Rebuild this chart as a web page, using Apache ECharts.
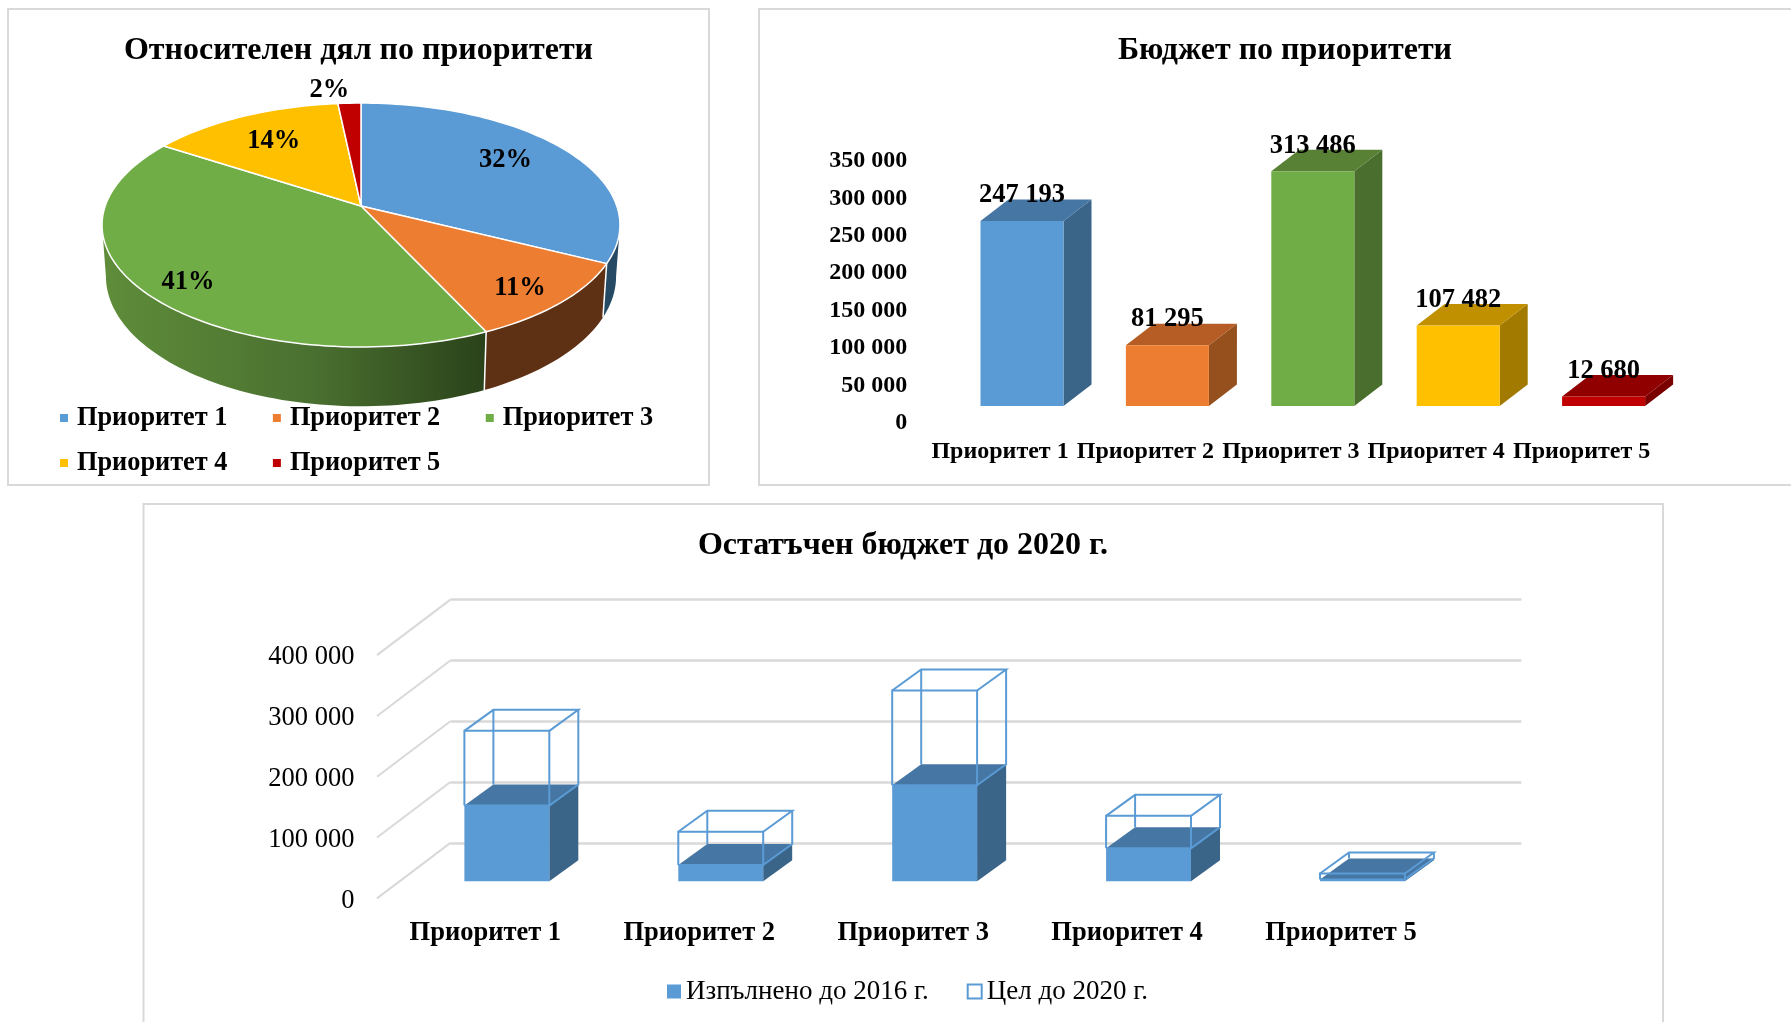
<!DOCTYPE html>
<html>
<head>
<meta charset="utf-8">
<script src="https://cdn.jsdelivr.net/npm/echarts@6/dist/echarts.min.js"></script>
<style>html,body{margin:0;padding:0;background:#fff;overflow:hidden}#c{width:1791px;height:1022px}</style>
</head>
<body>
<div id="c"></div>
<script>
// ---------- data ----------
const priorities = ['Приоритет 1', 'Приоритет 2', 'Приоритет 3', 'Приоритет 4', 'Приоритет 5'];
const budget = [247193, 81295, 313486, 107482, 12680];
const doneBy2016 = [124300, 26700, 157800, 54000, 3000];
const targetBy2020 = [247193, 81295, 313486, 107482, 12680];

// ---------- styles ----------
const FONT = '"Liberation Serif", "Times New Roman", serif';
const frontColors = ['#5b9bd5', '#ed7d31', '#70ad47', '#ffc000', '#c00000'];
const topColors = ['#4676a3', '#b55d24', '#588136', '#c09000', '#900000'];
const sideColors = ['#3a6488', '#96501e', '#4a6e2d', '#a27a00', '#7a0000'];
const wallFills = ['#264a63', '#5e3114', {
  type: 'linear', x: 0, y: 0, x2: 1, y2: 0,
  colorStops: [{offset: 0, color: '#5f8d3a'}, {offset: 0.55, color: '#4a7030'}, {offset: 1, color: '#2a421a'}]
}];
const labelRadius = [0.735, 0.833, 0.842, 0.717, 1.16];
const labelTurn = [-3.4, 1.6, -2.2, 0, -4.2];
const labelLift = [1.5, 1.5, 1.5, 2, 0.5];

// ---------- pie projection ----------
const PIE = {cx: 361, cy: 206, rx: 255.8, ry: 119, k: 0.156, depth: 50, shrink: 0.985};
const total = budget.reduce((a, b) => a + b, 0);
const cumulative = budget.map((_, i) => budget.slice(0, i).reduce((a, b) => a + b, 0));
const toDeg = v => v / total * 360;
function project(deg, r, lower) {
  const t = deg * Math.PI / 180, u = r * Math.sin(t), v = -r * Math.cos(t), w = 1 - PIE.k * v;
  let x = PIE.rx * u / w, y = PIE.ry * v / w;
  if (lower) { x *= PIE.shrink; y += PIE.depth / w; }
  return [PIE.cx + x, PIE.cy + y];
}
function arc(a, b, lower) {
  const pts = [], n = Math.max(2, Math.ceil(Math.abs(b - a) / 1.5));
  for (let j = 0; j <= n; j++) pts.push(project(a + (b - a) * j / n, 1, lower));
  return pts;
}
function sliceItem(i) {
  return function (params, api) {
    const start = toDeg(cumulative[i]), end = start + toDeg(api.value(0));
    const mid = (start + end) / 2 + labelTurn[i];
    const lp = project(mid, labelRadius[i], false);
    return {type: 'group', children: [
      {type: 'polygon', shape: {points: [[PIE.cx, PIE.cy]].concat(arc(start, end, false))},
       style: {fill: frontColors[i], stroke: '#fff', lineWidth: 1.5, lineJoin: 'round'}},
      {type: 'text', z2: 20, x: lp[0], y: lp[1] + labelLift[i],
       style: {text: Math.round(api.value(0) / total * 100) + '%', fill: '#000',
               font: 'bold 26.5px ' + FONT, align: 'center', verticalAlign: 'middle'}}
    ]};
  };
}
function wallItem(params, api) {
  const i = params.dataIndex;
  const start = toDeg(cumulative[i]), end = start + toDeg(api.value(0));
  const a = Math.max(start, 99), b = Math.min(end, 261);
  const top = arc(a, b, false), bottom = arc(a, b, true).reverse();
  const children = [{type: 'polygon', shape: {points: top.concat(bottom)}, style: {fill: wallFills[i]}}];
  if (i > 0) children.push({type: 'line',
    shape: {x1: top[0][0], y1: top[0][1], x2: bottom[bottom.length - 1][0], y2: bottom[bottom.length - 1][1]},
    style: {stroke: '#fff', lineWidth: 1.5}});
  return {type: 'group', children};
}

// ---------- 3D bars ----------
function box(api, params, value, widthShare, dx, dy) {
  const band = api.size([1, 0])[0];
  const c = api.coord([params.dataIndex, value]), base = api.coord([params.dataIndex, 0]);
  const w = band * widthShare, l = c[0] - w / 2, r = c[0] + w / 2;
  return {l, r, t: c[1], b: base[1], dx, dy};
}
function solid(b, front, top, side) {
  return [
    {type: 'polygon', shape: {points: [[b.r, b.t], [b.r + b.dx, b.t - b.dy], [b.r + b.dx, b.b - b.dy], [b.r, b.b]]}, style: {fill: side}},
    {type: 'polygon', shape: {points: [[b.l, b.t], [b.l + b.dx, b.t - b.dy], [b.r + b.dx, b.t - b.dy], [b.r, b.t]]}, style: {fill: top}},
    {type: 'rect', shape: {x: b.l, y: b.t, width: b.r - b.l, height: b.b - b.t}, style: {fill: front}}
  ];
}
function budgetItem(params, api) {
  const i = params.dataIndex, v = api.value(1);
  const b = box(api, params, v, 0.571, 28, 21.5);
  const kids = solid(b, frontColors[i], topColors[i], sideColors[i]);
  kids.push({type: 'text', z2: 20, x: (b.l + b.r) / 2, y: b.t - 25.5,
    style: {text: String(v).replace(/\B(?=(\d{3})+$)/g, ' '), fill: '#000',
            font: 'bold 26.5px ' + FONT, align: 'center', verticalAlign: 'middle'}});
  return {type: 'group', children: kids};
}
function doneItem(params, api) {
  const b = box(api, params, api.value(1), 0.397, 29, 21);
  return {type: 'group', children: solid(b, '#5b9bd5', '#4676a3', '#3a6488')};
}
function targetItem(params, api) {
  const b = box(api, params, api.value(1), 0.397, 29, 21);
  const d = box(api, params, doneBy2016[params.dataIndex], 0.397, 29, 21);
  const st = {stroke: '#5b9bd5', lineWidth: 2, fill: null};
  const x0 = b.l + b.dx, x1 = b.r + b.dx, ty = b.t - b.dy, dy = d.t - d.dy;
  const poly = pts => ({type: 'polyline', shape: {points: pts}, style: st});
  return {type: 'group', children: [
    poly([[b.l, d.t], [b.l, b.t], [b.r, b.t], [b.r, d.t], [b.l, d.t]]),
    poly([[b.l, b.t], [x0, ty], [x1, ty], [b.r, b.t]]),
    poly([[x0, ty], [x0, dy]]),
    poly([[x1, ty], [x1, dy], [b.r, d.t]])
  ]};
}
function depthLine(params, api) {
  const p = api.coord([0, api.value(0)]), x = params.coordSys.x;
  return {type: 'line', shape: {x1: x, y1: p[1], x2: x - 73.4, y2: p[1] + 55.5},
          style: {stroke: '#d9d9d9', lineWidth: 2}};
}

const spaced = v => String(v).replace(/\B(?=(\d{3})+$)/g, ' ');
const frame = (x, y, width, height) => ({type: 'rect', z: -1, shape: {x, y, width, height}, style: {fill: '#fff', stroke: '#d9d9d9', lineWidth: 2}});
const titleAt = (text, left, top) => ({text, left, top, textAlign: 'center', textVerticalAlign: 'middle',
  textStyle: {fontFamily: FONT, fontWeight: 'bold', fontSize: 32, color: '#000'}});
const pieLegend = (names, top) => ({data: names, left: 60, top, orient: 'horizontal', icon: 'rect', itemWidth: 8, itemHeight: 8, itemGap: 45.5,
  selectedMode: false, padding: 0, textStyle: {fontFamily: FONT, fontWeight: 'bold', fontSize: 26.3, color: '#000', padding: [0, 0, 0, 4]}});

const option = {
  animation: false,
  backgroundColor: '#fff',
  graphic: [frame(8, 9, 701, 476), frame(759, 9, 1040, 476), frame(143.5, 504, 1519.5, 530)],
  title: [
    titleAt('Относителен дял по приоритети', 353.5, 46),
    titleAt('Бюджет по приоритети', 1280, 46),
    titleAt('Остатъчен бюджет до 2020 г.', 898, 541)
  ],
  legend: [
    pieLegend(priorities.slice(0, 3), 405),
    pieLegend(priorities.slice(3), 450),
    {data: [{name: 'Изпълнено до 2016 г.', icon: 'rect'},
            {name: 'Цел до 2020 г.', icon: 'rect', itemStyle: {color: '#fff', borderColor: '#5b9bd5', borderWidth: 2}}],
     left: 667, top: 978, itemWidth: 14, itemHeight: 14, itemGap: 38, selectedMode: false, padding: 0,
     textStyle: {fontFamily: FONT, fontSize: 27, color: '#000'}}
  ],
  grid: [
    {left: 949.3, top: 144, width: 727, height: 262},
    {left: 450.4, top: 599.6, width: 1071, height: 243.3},
    {left: 399.9, top: 637.9, width: 1069.5, height: 243.3},
    {left: 450.4, top: 657.4, width: 1071, height: 243.3}
  ],
  xAxis: [
    {gridIndex: 0, type: 'category', data: priorities, axisLine: {show: false}, axisTick: {show: false},
     axisLabel: {interval: 0, margin: 34, padding: [0, 44, 0, 0], fontFamily: FONT, fontWeight: 'bold', fontSize: 24, color: '#000'}},
    {gridIndex: 1, type: 'category', data: priorities, show: false},
    {gridIndex: 2, type: 'category', data: priorities, axisLine: {show: false}, axisTick: {show: false},
     axisLabel: {interval: 0, margin: 38, padding: [0, 43, 0, 0], fontFamily: FONT, fontWeight: 'bold', fontSize: 26.5, color: '#000'}},
    {gridIndex: 3, type: 'category', data: priorities, show: false}
  ],
  yAxis: [
    {gridIndex: 0, type: 'value', min: 0, max: 350000, interval: 50000, axisLine: {show: false}, axisTick: {show: false}, splitLine: {show: false},
     axisLabel: {margin: 42, verticalAlign: 'top', lineHeight: 34, fontFamily: FONT, fontWeight: 'bold', fontSize: 24, color: '#000', formatter: spaced}},
    {gridIndex: 1, type: 'value', min: 0, max: 400000, interval: 100000, axisLine: {show: false}, axisTick: {show: false},
     splitLine: {show: true, lineStyle: {color: '#d9d9d9', width: 2.5}}, axisLabel: {show: false}},
    {gridIndex: 2, type: 'value', min: 0, max: 400000, interval: 100000, show: false},
    {gridIndex: 3, type: 'value', min: 0, max: 400000, interval: 100000, axisLine: {show: false}, axisTick: {show: false}, splitLine: {show: false},
     axisLabel: {margin: 96, fontFamily: FONT, fontSize: 26.5, color: '#000', formatter: spaced}}
  ],
  series: [
    {type: 'custom', name: 'walls', coordinateSystem: 'none', z: 1, silent: true, renderItem: wallItem,
     data: budget.map(v => [v])},
    ...priorities.map((name, i) => ({type: 'custom', name, coordinateSystem: 'none', z: 2, renderItem: sliceItem(i),
      itemStyle: {color: frontColors[i]}, data: [[budget[i]]]})),
    {type: 'custom', name: 'budget', xAxisIndex: 0, yAxisIndex: 0, z: 2, renderItem: budgetItem,
     encode: {x: 0, y: 1}, data: budget.map((v, i) => [i, v])},
    {type: 'custom', name: 'depth', xAxisIndex: 1, yAxisIndex: 1, z: 1, silent: true, renderItem: depthLine,
     encode: {y: 0}, data: [0, 100000, 200000, 300000, 400000].map(v => [v])},
    {type: 'custom', name: 'Изпълнено до 2016 г.', xAxisIndex: 2, yAxisIndex: 2, z: 3, renderItem: doneItem,
     itemStyle: {color: '#5b9bd5'}, encode: {x: 0, y: 1}, data: doneBy2016.map((v, i) => [i, v])},
    {type: 'custom', name: 'Цел до 2020 г.', xAxisIndex: 2, yAxisIndex: 2, z: 4, renderItem: targetItem,
     itemStyle: {color: '#5b9bd5'}, encode: {x: 0, y: 1}, data: targetBy2020.map((v, i) => [i, v])}
  ]
};
const chart = echarts.init(document.getElementById('c'), null, {renderer: 'canvas', width: 1791, height: 1022});
chart.setOption(option);
</script>
</body>
</html>
